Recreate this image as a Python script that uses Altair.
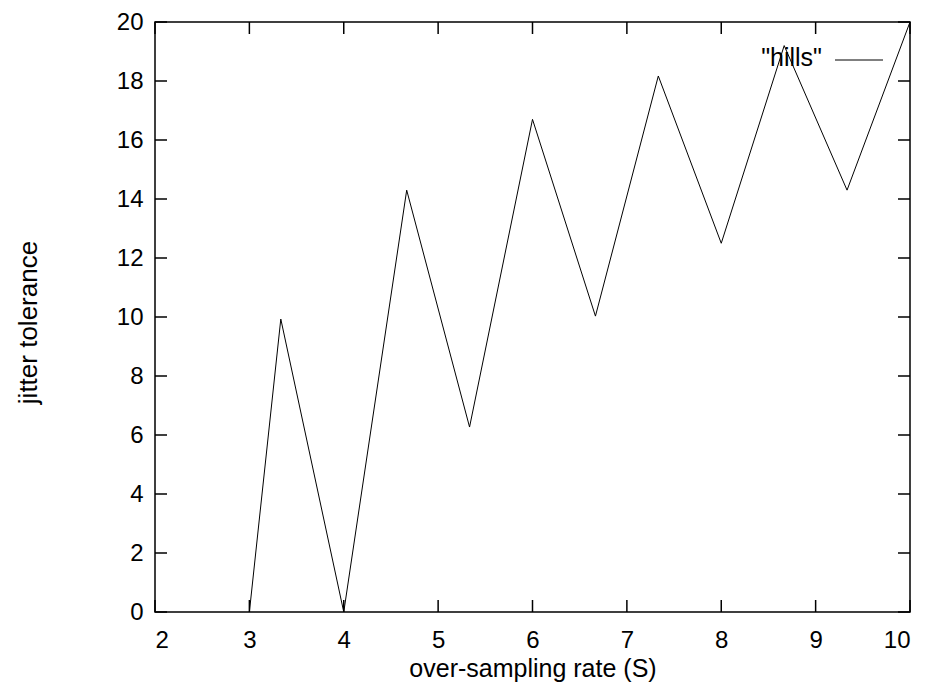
import altair as alt
import pandas as pd

# data
rate = [3.0, 3.333, 4.0, 4.667, 5.333, 6.0, 6.667, 7.333, 8.0, 8.667, 9.333, 10.0]
jitter = [0.0, 9.93, 0.0, 14.3, 6.27, 16.7, 10.03, 18.17, 12.5, 19.2, 14.3, 20.0]
x_ticks = [2, 3, 4, 5, 6, 7, 8, 9, 10]
y_ticks = [0, 2, 4, 6, 8, 10, 12, 14, 16, 18, 20]
legend_label = ['"hills"']

W, H = 755, 590
FONT = "Liberation Sans"
FS = 24

df = pd.DataFrame({"rate": rate, "jitter": jitter})
dfx = pd.DataFrame({"t": x_ticks})
dfy = pd.DataFrame({"t": y_ticks})
dfl = pd.DataFrame({"label": legend_label})

xscale = alt.Scale(domain=[2, 10], nice=False, zero=False)
yscale = alt.Scale(domain=[0, 20], nice=False)

line = alt.Chart(df).mark_line(color="black", strokeWidth=1).encode(
    x=alt.X("rate:Q", scale=xscale,
            axis=alt.Axis(values=x_ticks, title="over-sampling rate (S)", tickSize=0,
                          domain=False, grid=False, labelPadding=16, labelFontSize=FS,
                          labelFont=FONT, labelColor="black", titleFont=FONT,
                          titleFontSize=25, titleFontWeight="normal", titleColor="black",
                          titleY=64, titleBaseline="alphabetic", format="d")),
    y=alt.Y("jitter:Q", scale=yscale,
            axis=alt.Axis(values=y_ticks, title="jitter tolerance", tickSize=0,
                          domain=False, grid=False, labelPadding=12, labelFontSize=FS,
                          labelFont=FONT, labelColor="black", titleFont=FONT,
                          titleFontSize=26, titleFontWeight="normal", titleColor="black",
                          titleX=-119, titleY=300, titleAngle=-90, titleAlign="center",
                          titleBaseline="alphabetic", format="d")),
)

tick_style = dict(color="black", strokeWidth=1.5)
bx = alt.Chart(dfx).mark_rule(**tick_style).encode(
    x=alt.X("t:Q", scale=xscale), y=alt.value(H), y2=alt.value(H - 12))
tx = alt.Chart(dfx).mark_rule(**tick_style).encode(
    x=alt.X("t:Q", scale=xscale), y=alt.value(0), y2=alt.value(12))
ly = alt.Chart(dfy).mark_rule(**tick_style).encode(
    y=alt.Y("t:Q", scale=yscale), x=alt.value(0), x2=alt.value(12))
ry = alt.Chart(dfy).mark_rule(**tick_style).encode(
    y=alt.Y("t:Q", scale=yscale), x=alt.value(W), x2=alt.value(W - 12))

leg_text = alt.Chart(dfl).mark_text(align="right", baseline="middle", fontSize=25,
                                    font=FONT, color="black").encode(
    text="label:N", x=alt.value(667), y=alt.value(36))
leg_line = alt.Chart(dfl).mark_rule(color="black", strokeWidth=1).encode(
    x=alt.value(680), x2=alt.value(728), y=alt.value(38))

chart = alt.layer(line, bx, tx, ly, ry, leg_text, leg_line).properties(
    width=W, height=H,
    autosize=alt.AutoSizeParams(type="none"),
    padding={"left": 155, "top": 22, "right": 19, "bottom": 71},
    background="white",
).configure_view(stroke="black", strokeWidth=1.5)

chart.save("out.html", embed_options={"renderer": "svg", "actions": False})
